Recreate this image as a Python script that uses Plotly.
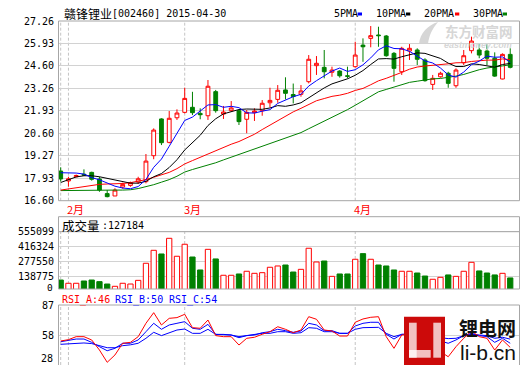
import plotly.graph_objects as go

# ---------------- data ----------------
dates = [
    "2015-01-30",
    "2015-02-02", "2015-02-03", "2015-02-04", "2015-02-05", "2015-02-06",
    "2015-02-09", "2015-02-10", "2015-02-11", "2015-02-12", "2015-02-13",
    "2015-02-16", "2015-02-17", "2015-02-25", "2015-02-26", "2015-02-27",
    "2015-03-02", "2015-03-03", "2015-03-04", "2015-03-05", "2015-03-06",
    "2015-03-09", "2015-03-10", "2015-03-11", "2015-03-12", "2015-03-13",
    "2015-03-16", "2015-03-17", "2015-03-18", "2015-03-19", "2015-03-20",
    "2015-03-23", "2015-03-24", "2015-03-25", "2015-03-26", "2015-03-27",
    "2015-03-30", "2015-03-31",
    "2015-04-01", "2015-04-02", "2015-04-03", "2015-04-07", "2015-04-08",
    "2015-04-09", "2015-04-10", "2015-04-13", "2015-04-14", "2015-04-15",
    "2015-04-16", "2015-04-17", "2015-04-20", "2015-04-21", "2015-04-22",
    "2015-04-23", "2015-04-24", "2015-04-27", "2015-04-28", "2015-04-29",
    "2015-04-30",
]

opens = [18.36, 17.77, 18.02, 18.17, 18.28, 17.89, 17.02, 16.88, 17.41, 17.51,
         17.71, 17.73, 19.27, 21.45, 20.06, 21.52, 21.84, 22.14, 21.78, 21.64,
         23.07, 21.74, 21.94, 21.94, 21.43, 21.82, 21.94, 22.41, 22.61, 23.17,
         22.90, 22.91, 23.66, 24.61, 24.51, 24.22, 24.29, 24.01, 24.55, 25.83,
         26.23, 26.43, 26.37, 25.34, 24.25, 25.48, 25.54, 24.95, 23.50, 23.95,
         24.16, 23.42, 24.78, 25.50, 25.54, 25.48, 25.05, 23.82, 25.28]
highs = [18.58, 18.02, 18.15, 18.46, 18.32, 18.02, 17.23, 17.34, 17.67, 17.73,
         18.02, 19.37, 20.89, 21.49, 21.92, 22.02, 23.30, 23.06, 22.08, 23.76,
         23.17, 22.22, 22.51, 22.02, 21.98, 22.08, 22.57, 23.30, 23.46, 23.92,
         23.55, 23.46, 25.24, 25.18, 25.54, 24.55, 24.35, 24.55, 26.03, 26.23,
         26.96, 26.92, 26.43, 25.42, 25.73, 25.89, 25.64, 25.05, 24.06, 24.25,
         24.25, 24.45, 25.54, 26.33, 25.93, 25.88, 25.40, 25.34, 25.64]
lows = [17.73, 17.43, 17.99, 18.07, 17.79, 17.13, 16.80, 16.88, 17.31, 17.43,
        17.59, 17.63, 19.06, 19.90, 20.00, 21.39, 21.78, 21.68, 21.43, 21.39,
        21.82, 21.45, 21.88, 21.09, 20.60, 21.33, 21.64, 22.14, 22.41, 22.61,
        22.37, 22.77, 23.56, 24.06, 23.86, 23.95, 23.90, 23.86, 24.49, 24.84,
        25.70, 25.73, 25.14, 23.66, 24.06, 24.95, 24.65, 23.66, 23.17, 23.90,
        23.30, 23.30, 24.65, 25.34, 25.05, 24.65, 23.95, 23.80, 24.45]
closes = [17.89, 17.90, 18.09, 18.12, 17.87, 17.23, 16.84, 17.23, 17.57, 17.67,
          17.90, 18.95, 20.79, 20.04, 21.49, 21.80, 22.67, 21.82, 21.70, 23.39,
          21.94, 21.86, 22.10, 21.29, 21.84, 21.92, 22.38, 22.55, 23.15, 22.97,
          22.78, 23.11, 24.99, 24.75, 24.25, 24.35, 24.01, 23.98, 25.24, 25.73,
          26.39, 26.39, 25.20, 24.45, 25.64, 25.64, 24.99, 23.72, 23.86, 24.16,
          23.56, 24.35, 25.20, 26.07, 25.24, 25.05, 23.99, 25.28, 24.51]

ma5 = [18.26, 18.25, 18.24, 18.18, 17.97, 17.84, 17.63, 17.46, 17.35, 17.31,
       17.44, 17.86, 18.58, 19.07, 19.83, 20.61, 21.36, 21.56, 21.90, 22.28,
       22.30, 22.14, 22.20, 22.12, 21.81, 21.80, 21.91, 22.00, 22.37, 22.59,
       22.77, 22.91, 23.40, 23.72, 23.98, 24.29, 24.47, 24.27, 24.37, 24.66,
       25.07, 25.55, 25.79, 25.63, 25.61, 25.46, 25.18, 24.89, 24.77, 24.47,
       24.06, 23.93, 24.23, 24.67, 24.88, 25.18, 25.11, 25.13, 24.81]
ma10 = [17.68, 17.86, 18.01, 18.08, 18.08, 18.02, 17.92, 17.80, 17.74, 17.64,
        17.64, 17.75, 18.02, 18.21, 18.57, 19.03, 19.61, 20.07, 20.48, 21.06,
        21.46, 21.75, 21.88, 22.01, 22.04, 22.05, 22.02, 22.10, 22.24, 22.20,
        22.28, 22.41, 22.70, 23.04, 23.29, 23.53, 23.69, 23.83, 24.04, 24.32,
        24.68, 25.01, 25.03, 25.00, 25.14, 25.27, 25.37, 25.34, 25.20, 25.04,
        24.76, 24.56, 24.56, 24.72, 24.68, 24.62, 24.52, 24.68, 24.74]
ma20 = [17.23, 17.30, 17.38, 17.46, 17.53, 17.57, 17.59, 17.59, 17.62, 17.67,
        17.75, 17.85, 17.99, 18.13, 18.28, 18.50, 18.78, 18.98, 19.18, 19.35,
        19.55, 19.75, 19.95, 20.11, 20.31, 20.54, 20.82, 21.08, 21.36, 21.63,
        21.87, 22.08, 22.29, 22.53, 22.66, 22.79, 22.86, 22.97, 23.14, 23.26,
        23.48, 23.71, 23.86, 24.02, 24.21, 24.40, 24.53, 24.59, 24.62, 24.68,
        24.72, 24.78, 24.79, 24.86, 24.91, 24.94, 24.94, 25.01, 24.97]
ma30 = [17.20, 17.21, 17.21, 17.22, 17.22, 17.22, 17.22, 17.23, 17.23, 17.25,
        17.32, 17.43, 17.55, 17.70, 17.85, 18.05, 18.30, 18.45, 18.58, 18.72,
        18.85, 19.02, 19.18, 19.33, 19.52, 19.68, 19.82, 20.00, 20.15, 20.30,
        20.46, 20.64, 20.87, 21.09, 21.30, 21.54, 21.78, 22.00, 22.26, 22.52,
        22.81, 23.06, 23.20, 23.35, 23.49, 23.62, 23.69, 23.76, 23.83, 23.85,
        23.91, 23.99, 24.09, 24.25, 24.37, 24.47, 24.53, 24.62, 24.66]

volumes = [108000, 78000, 78000, 99000, 108000, 93000, 71000, 50000, 78000, 71000,
           105000, 263000, 383000, 349000, 494000, 328000, 439000, 321000, 201000, 392000,
           303000, 152000, 152000, 164000, 189000, 170000, 176000, 226000, 238000, 247000,
           182000, 207000, 402000, 275000, 284000, 142000, 164000, 164000, 300000, 352000,
           300000, 247000, 238000, 201000, 189000, 189000, 173000, 145000, 115000, 133000,
           155000, 142000, 189000, 272000, 192000, 173000, 155000, 170000, 127184]

rsi_a = [52.2, 53.5, 56.4, 56.4, 53.2, 43.5, 31.6, 38.7, 50.0, 50.9,
         56.4, 69.3, 79.6, 67.7, 74.1, 74.8, 78.0, 65.1, 64.5, 72.5,
         57.4, 56.4, 56.4, 48.3, 54.8, 55.8, 58.7, 61.2, 66.0, 63.5,
         60.2, 62.8, 75.7, 73.2, 62.8, 61.9, 57.0, 57.0, 70.3, 73.5,
         75.1, 75.7, 56.4, 45.1, 58.0, 58.6, 46.7, 38.7, 43.5, 41.9,
         37.0, 46.7, 54.8, 61.9, 56.4, 54.8, 43.5, 53.2, 46.0]
rsi_b = [51.5, 52.8, 54.1, 54.1, 50.9, 46.7, 42.8, 45.1, 50.0, 50.0,
         53.2, 61.2, 69.3, 63.5, 67.7, 69.3, 70.9, 64.5, 63.5, 68.3,
         58.6, 58.6, 58.0, 55.4, 57.4, 58.0, 60.2, 61.2, 63.5, 62.2,
         60.6, 61.9, 69.3, 67.7, 62.2, 62.2, 59.6, 59.6, 66.7, 69.3,
         70.3, 70.3, 58.7, 54.1, 58.7, 58.7, 54.8, 50.9, 53.2, 52.2,
         50.0, 53.2, 57.4, 59.6, 57.4, 56.4, 50.9, 54.8, 50.0]
rsi_c = [49.0, 49.6, 50.3, 50.3, 49.7, 47.7, 45.7, 45.7, 47.7, 48.5,
         50.0, 54.8, 60.6, 57.4, 60.2, 62.8, 63.8, 59.6, 59.6, 63.5,
         58.6, 58.6, 58.0, 56.4, 57.4, 58.0, 59.6, 59.6, 61.2, 61.2,
         59.6, 60.2, 65.1, 64.5, 61.2, 61.2, 59.6, 59.6, 63.5, 65.1,
         65.4, 65.4, 59.6, 56.4, 58.6, 58.6, 57.4, 54.8, 55.4, 55.4,
         54.5, 54.8, 57.4, 58.6, 58.0, 57.4, 54.8, 55.8, 54.0]

price_ticks = [16.60, 17.93, 19.27, 20.60, 21.93, 23.26, 24.60, 25.93, 27.26]
vol_ticks = [138775, 277550, 416324, 555099]
rsi_ticks = [58, 87]
stock_name = "赣锋锂业"
stock_code = "[002460] 2015-04-30"
ma_names = ["5PMA", "10PMA", "20PMA", "30PMA"]
rsi_labels = ["RSI_A:46", "RSI_B:50", "RSI_C:54"]
vol_label = "127184"

# ---------------- layout helpers (pixel -> paper) ----------------
W, H = 520, 365
L, R = 58, 520


def px(x):
    return (x - L) / (R - L)


def py(y):
    return 1 - y / H


RED = "#ff0000"
GREEN = "#008000"
BLUE = "#0000ff"
GRID = "#d2d2d2"
FRAME = "#a6a6a6"
MONO = "DejaVu Sans Mono"
CJK = "Noto Sans CJK SC"

fig = go.Figure()

# ---- price panel ----
fig.add_trace(go.Candlestick(
    x=dates, open=opens, high=highs, low=lows, close=closes,
    increasing=dict(line=dict(color=RED, width=1), fillcolor="#ffffff"),
    decreasing=dict(line=dict(color=GREEN, width=1), fillcolor=GREEN),
    whiskerwidth=0, xaxis="x", yaxis="y", hoverinfo="skip"))
for vals, col in [(ma30, GREEN), (ma20, RED), (ma10, "#000000"), (ma5, BLUE)]:
    fig.add_trace(go.Scatter(x=dates, y=vals, mode="lines",
                             line=dict(color=col, width=1),
                             xaxis="x", yaxis="y", hoverinfo="skip"))

# ---- volume panel ----
up = [c >= o for o, c in zip(opens, closes)]
fig.add_trace(go.Bar(
    x=dates, y=volumes, width=0.68,
    marker=dict(color=["#ffffff" if u else GREEN for u in up],
                line=dict(color=[RED if u else GREEN for u in up], width=1)),
    xaxis="x", yaxis="y2", hoverinfo="skip"))

# ---- RSI panel ----
for vals, col in [(rsi_c, BLUE), (rsi_b, BLUE), (rsi_a, RED)]:
    fig.add_trace(go.Scatter(x=dates, y=vals, mode="lines",
                             line=dict(color=col, width=1),
                             xaxis="x", yaxis="y3", hoverinfo="skip"))

tickfont = dict(family=MONO, size=10, color="#000000")
yax_common = dict(showgrid=True, gridcolor=GRID, gridwidth=1, zeroline=False,
                  ticks="", showline=False, tickfont=tickfont, automargin=False,
                  ticklabelstandoff=3, anchor="x", fixedrange=True)

fig.update_layout(
    width=W, height=H, autosize=False,
    margin=dict(l=L, r=W - R, t=0, b=0, pad=0, autoexpand=False),
    paper_bgcolor="#ffffff", plot_bgcolor="#ffffff",
    showlegend=False,
    xaxis=dict(type="category", categoryorder="array", categoryarray=dates,
               range=[-0.348, 59.26], showticklabels=False, showgrid=False,
               zeroline=False, showline=False, ticks="", automargin=False,
               rangeslider=dict(visible=False), fixedrange=True, anchor="y"),
    yaxis=dict(domain=[py(200.7), py(21)], range=[price_ticks[0], price_ticks[-1]],
               tickmode="array", tickvals=price_ticks,
               ticktext=["%.2f" % v for v in price_ticks], **yax_common),
    yaxis2=dict(domain=[py(289), py(217)], range=[24980, 691100],
                tickmode="array", tickvals=vol_ticks,
                ticktext=[str(v) for v in vol_ticks], **yax_common),
    yaxis3=dict(domain=[0, py(305)], range=[29.0, 87],
                tickmode="array", tickvals=rsi_ticks,
                ticktext=[str(v) for v in rsi_ticks], **yax_common),
)

shapes = []
annotations = []

# month boundary dashed lines and labels
month_starts = [i for i in range(1, len(dates)) if dates[i][5:7] != dates[i - 1][5:7]]
for i in [0] + month_starts:
    for (y0, y1) in [(200.7, 21), (289, 231.7), (365, 305)]:
        shapes.append(dict(type="line", xref="x", yref="paper",
                           x0=dates[i], x1=dates[i], y0=py(y0), y1=py(y1),
                           line=dict(color="#c4c4c4", width=1, dash="3px,2px"),
                           layer="between"))
for i in month_starts:
    annotations.append(dict(xref="x", yref="paper", x=dates[i], y=py(208.5),
                            text="%d月" % int(dates[i][5:7]), showarrow=False,
                            xanchor="left", yanchor="middle", xshift=-3,
                            font=dict(family=CJK, size=11, color=RED)))


def rect(x0, y0, x1, y1, **kw):
    d = dict(type="rect", xref="paper", yref="paper",
             x0=px(x0), x1=px(x1), y0=py(y1), y1=py(y0),
             line=dict(color=FRAME, width=1), fillcolor="rgba(0,0,0,0)")
    d.update(kw)
    return d


# frames
shapes.append(rect(58.5, 21, 519.5, 200.7))
shapes.append(rect(58.5, 216.7, 519.5, 289))
shapes.append(dict(type="line", xref="paper", yref="paper", x0=px(58.5), x1=px(519.5),
                   y0=py(231.7), y1=py(231.7), line=dict(color=FRAME, width=1)))
shapes.append(rect(58.5, 305, 519.5, 372))

# legend dashes + names
for x0, col in [(357.7, BLUE), (406, "#000000"), (455, RED), (502.7, GREEN)]:
    shapes.append(dict(type="rect", xref="paper", yref="paper",
                       x0=px(x0), x1=px(x0 + 4.3), y0=py(15.5), y1=py(12.5),
                       line=dict(width=0), fillcolor=col))
for x0, name in zip([331.7, 374.3, 422.3, 470.7], ma_names):
    annotations.append(dict(xref="paper", yref="paper", x=px(x0), y=py(14),
                            text=name, showarrow=False, xanchor="left", yanchor="middle",
                            font=dict(family=MONO, size=10, color="#000000")))

# title
annotations.append(dict(xref="paper", yref="paper", x=px(61.5), y=py(13.5), text=stock_name,
                        showarrow=False, xanchor="left", yanchor="middle",
                        font=dict(family=CJK, size=12, color="#000000")))
annotations.append(dict(xref="paper", yref="paper", x=px(110), y=py(13.5), text=stock_code,
                        showarrow=False, xanchor="left", yanchor="middle",
                        font=dict(family=MONO, size=10, color="#000000")))

# volume header and zero label
annotations.append(dict(xref="paper", yref="paper", x=px(59.5), y=py(225), text="成交量",
                        showarrow=False, xanchor="left", yanchor="middle",
                        font=dict(family=CJK, size=12.5, color="#000000")))
annotations.append(dict(xref="paper", yref="paper", x=px(100), y=py(225), text=":" + vol_label,
                        showarrow=False, xanchor="left", yanchor="middle",
                        font=dict(family=MONO, size=10, color="#000000")))
annotations.append(dict(xref="paper", yref="paper", x=px(55), y=py(287), text="0",
                        showarrow=False, xanchor="right", yanchor="middle",
                        font=dict(family=MONO, size=9.5, color="#000000")))

# RSI header and bottom label
for x0, txt, col in zip([60, 113.3, 166.7], rsi_labels, [RED, BLUE, BLUE]):
    annotations.append(dict(xref="paper", yref="paper", x=px(x0), y=py(299.5), text=txt,
                            showarrow=False, xanchor="left", yanchor="middle",
                            font=dict(family=MONO, size=10, color=col)))
annotations.append(dict(xref="paper", yref="paper", x=px(55), y=py(358.5), text="28",
                        showarrow=False, xanchor="right", yanchor="middle",
                        font=tickfont))

# eastmoney watermark
WM = "#d6d6d6"


def ppath(pts):
    s = "M %f,%f" % (px(pts[0][0]), py(pts[0][1]))
    for i in range(1, len(pts), 3):
        a, b, c = pts[i], pts[i + 1], pts[i + 2]
        s += " C %f,%f %f,%f %f,%f" % (px(a[0]), py(a[1]), px(b[0]), py(b[1]), px(c[0]), py(c[1]))
    return s + " Z"


shapes.append(dict(type="path", xref="paper", yref="paper",
                   path=ppath([(419, 44), (420, 33), (428, 25), (438, 22),
                               (432, 29), (429, 36), (428, 44)]),
                   fillcolor=WM, line=dict(width=0), layer="between"))
annotations.append(dict(xref="paper", yref="paper", x=px(478.5), y=py(30.5), text="<b>东方财富网</b>",
                        showarrow=False, xanchor="center", yanchor="middle",
                        font=dict(family=CJK, size=13.5, color=WM)))
annotations.append(dict(xref="paper", yref="paper", x=px(478), y=py(45), text="<b><i>eastmoney.com</i></b>",
                        showarrow=False, xanchor="center", yanchor="middle",
                        font=dict(family="Liberation Sans", size=9, color=WM)))

# li-b.cn logo
shapes.append(rect(404, 316.7, 445, 372, fillcolor="#cc0a0a", line=dict(width=0)))
for (x0, y0, x1, y1) in [(409, 322.7, 416.7, 357.7), (409, 350, 430.7, 357.7),
                         (433.3, 322.7, 441, 357.7)]:
    shapes.append(rect(x0, y0, x1, y1, fillcolor="rgba(255,255,255,0.75)", line=dict(width=0)))
annotations.append(dict(xref="paper", yref="paper", x=px(487.5), y=py(327.5), text="<b>锂电网</b>",
                        showarrow=False, xanchor="center", yanchor="middle",
                        font=dict(family=CJK, size=19, color="#111111")))
annotations.append(dict(xref="paper", yref="paper", x=px(487.5), y=py(352.5), text="li-b.cn",
                        showarrow=False, xanchor="center", yanchor="middle",
                        font=dict(family="Liberation Sans", size=21, color="#111111")))

fig.update_layout(shapes=shapes, annotations=annotations)
fig.write_html("out.html", config={"responsive": False, "displayModeBar": False},
               post_script="document.body.style.margin='0';document.body.style.padding='0';")
